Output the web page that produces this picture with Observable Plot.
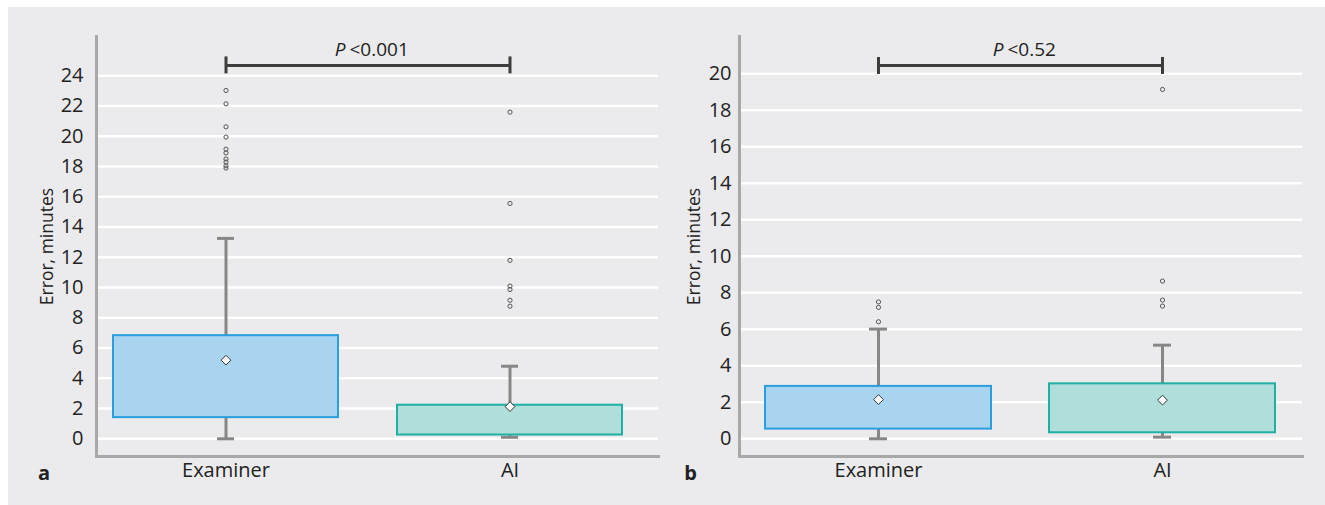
<!DOCTYPE html>
<html>
<head>
<meta charset="utf-8">
<script src="https://cdn.jsdelivr.net/npm/d3@7"></script>
<script src="https://cdn.jsdelivr.net/npm/@observablehq/plot@0.6"></script>
<style>
  html, body { margin: 0; padding: 0; background: #ffffff; }
  #page { position: relative; width: 1325px; height: 505px; overflow: hidden; }
  #bg { position: absolute; left: 8px; top: 7px; width: 1317px; height: 498px; background: #ebebed; }
  #pa, #pb { position: absolute; top: 7px; }
  #pa { left: 8px; }
  #pb { left: 660px; }
  svg { overflow: visible; }
</style>
</head>
<body>
<div id="page">
  <div id="bg"></div>
  <div id="pa"></div>
  <div id="pb"></div>
</div>
<script>
// ---------- data ----------
const categories = ["Examiner", "AI"];

// panel a
const aQ1 = [1.4, 0.25];
const aQ3 = [6.82, 2.22];
const aLow = [0, 0.1];
const aHigh = [13.25, 4.8];
const aMean = [5.2, 2.13];
const aOutExaminer = [23.03, 22.15, 20.63, 19.95, 19.15, 18.9, 18.5, 18.3, 18.05, 17.9];
const aOutAI = [21.6, 15.56, 11.8, 10.1, 9.87, 9.16, 8.77];
const aTicks = [0, 2, 4, 6, 8, 10, 12, 14, 16, 18, 20, 22, 24];
const aPText = "<0.001";

// panel b
const bQ1 = [0.53, 0.33];
const bQ3 = [2.87, 3.01];
const bLow = [0, 0.09];
const bHigh = [6.01, 5.13];
const bMean = [2.15, 2.12];
const bOutExaminer = [7.5, 7.2, 6.41];
const bOutAI = [19.14, 8.64, 7.6, 7.27];
const bTicks = [0, 2, 4, 6, 8, 10, 12, 14, 16, 18, 20];
const bPText = "<0.52";

const yLabel = "Error, minutes";

// ---------- styles ----------
const boxFill = ["#a9d4ef", "#b0dedb"];
const boxStroke = ["#2a9ee0", "#1db0a3"];
const FONT = "'Open Sans', 'Liberation Sans', sans-serif";
const FS = 20;

function makePanel(cfg) {
  const stats = categories.map((c, i) => ({
    cat: c, q1: cfg.q1[i], q3: cfg.q3[i], lo: cfg.low[i], hi: cfg.high[i], mean: cfg.mean[i],
    fill: boxFill[i], stroke: boxStroke[i]
  }));
  const outliers = [
    ...cfg.outEx.map(v => ({cat: categories[0], v})),
    ...cfg.outAI.map(v => ({cat: categories[1], v}))
  ];
  const ink = "#222222";
  return Plot.plot({
    width: cfg.width,
    height: 498,
    marginLeft: cfg.ml,
    marginRight: cfg.mr,
    marginTop: 29,
    marginBottom: 49,
    style: {fontFamily: FONT, fontSize: FS + "px", color: ink, background: "transparent", overflow: "visible"},
    x: {type: "band", domain: categories, paddingInner: cfg.pi, paddingOuter: cfg.po, align: cfg.align},
    y: {domain: cfg.ydomain},
    color: {type: "identity"},
    marks: [
      Plot.gridY(cfg.ticks, {stroke: "#ffffff", strokeOpacity: 1, strokeWidth: 2.6}),
      Plot.frame({anchor: "left", stroke: "#a8a8a8", strokeWidth: 3}),
      Plot.frame({anchor: "bottom", stroke: "#a8a8a8", strokeWidth: 3}),
      Plot.axisY({ticks: cfg.ticks, tickSize: 0, tickPadding: cfg.tp, label: null, fontSize: FS, fill: ink}),
      Plot.axisX({tickSize: 0, tickPadding: 6, label: null, fontSize: FS, fill: ink}),
      Plot.text([yLabel], {text: d => d, frameAnchor: "left", dx: cfg.ylabelDx, rotate: -90,
        textAnchor: "middle", lineAnchor: "middle", fontSize: 17.5, fill: ink}),
      Plot.text([cfg.letter], {text: d => d, frameAnchor: "bottom-left", dx: cfg.letterDx, dy: 17,
        lineAnchor: "middle", textAnchor: "middle",
        fontWeight: "bold", fontSize: 20, fill: ink}),
      // whiskers
      Plot.ruleX(stats, {x: "cat", y1: "lo", y2: "hi", stroke: "#878787", strokeWidth: 3}),
      Plot.tickY(stats, {x: "cat", y: "hi", stroke: "#878787", strokeWidth: 3, insetLeft: 104, insetRight: 104}),
      Plot.tickY(stats, {x: "cat", y: "lo", stroke: "#878787", strokeWidth: 3, insetLeft: 104, insetRight: 104}),
      // boxes
      Plot.barY(stats, {x: "cat", y1: "q1", y2: "q3", fill: "fill", stroke: "stroke", strokeWidth: 2}),
      // outliers
      Plot.dot(outliers, {x: "cat", y: "v", r: 2.1, stroke: "#555555", fill: "none", strokeWidth: 1}),
      // means
      Plot.dot(stats, {x: "cat", y: "mean", symbol: "diamond2", r: 4.4, fill: "#ffffff", stroke: "#333333", strokeWidth: 1}),
      // significance bracket
      Plot.link([0], {x1: () => categories[0], x2: () => categories[1], y1: () => cfg.brY, y2: () => cfg.brY,
        stroke: "#3d3d3d", strokeWidth: 3}),
      Plot.ruleX(categories, {x: d => d, y1: () => cfg.brLo, y2: () => cfg.brHi, stroke: "#3d3d3d", strokeWidth: 3}),
      Plot.text(["P"], {text: d => d, frameAnchor: "top", dx: cfg.pDx, dy: 13, textAnchor: "end",
        lineAnchor: "middle", fontStyle: "italic", fontSize: 19, fill: ink}),
      Plot.text([cfg.pText], {text: d => d, frameAnchor: "top", dx: cfg.pDx + 4, dy: 13, textAnchor: "start",
        lineAnchor: "middle", fontSize: 19, fill: ink})
    ]
  });
}

const pa = makePanel({
  width: 652, ml: 88, mr: 2, tp: 13,
  pi: 0.207, po: 0.0895, align: 0.314,
  ydomain: [-1.17, 26.6], ticks: aTicks,
  q1: aQ1, q3: aQ3, low: aLow, high: aHigh, mean: aMean, outEx: aOutExaminer, outAI: aOutAI,
  brY: 24.68, brLo: 24.13, brHi: 25.25, pText: aPText, pDx: -32,
  letter: "a", letterDx: -52.5, ylabelDx: -49
});
const pb = makePanel({
  width: 665, ml: 79, mr: 23, tp: 8,
  pi: 0.204, po: 0.093, align: 0.49,
  ydomain: [-0.97, 22.04], ticks: bTicks,
  q1: bQ1, q3: bQ3, low: bLow, high: bHigh, mean: bMean, outEx: bOutExaminer, outAI: bOutAI,
  brY: 20.45, brLo: 19.96, brHi: 20.89, pText: bPText, pDx: -17.5,
  letter: "b", letterDx: -49, ylabelDx: -45
});
document.getElementById("pa").appendChild(pa);
document.getElementById("pb").appendChild(pb);
</script>
</body>
</html>
